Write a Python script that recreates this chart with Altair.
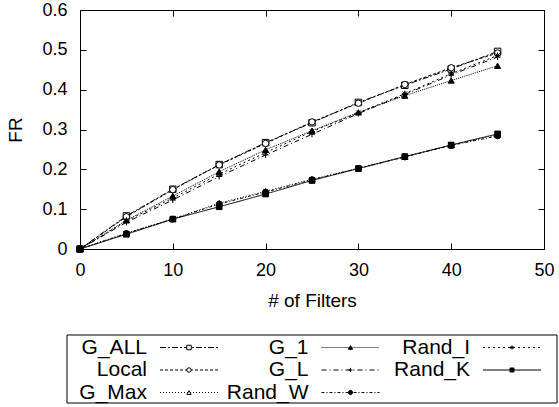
import altair as alt
import pandas as pd

# Number of filters on the x axis
filters = [0, 5, 10, 15, 20, 25, 30, 35, 40, 45]

series_names = ["G_ALL", "Local", "G_Max", "G_1", "G_L", "Rand_W", "Rand_I", "Rand_K"]

# FR per strategy
g_all = [0, 0.083, 0.150, 0.212, 0.267, 0.317, 0.368, 0.411, 0.452, 0.496]
local = [0, 0.081, 0.149, 0.211, 0.265, 0.319, 0.366, 0.413, 0.455, 0.492]
g_max = [0, 0.040, 0.076, 0.115, 0.145, 0.175, 0.203, 0.232, 0.261, 0.287]
g_1 = [0, 0.072, 0.133, 0.194, 0.249, 0.297, 0.343, 0.385, 0.423, 0.460]
g_l = [0, 0.067, 0.123, 0.182, 0.236, 0.288, 0.340, 0.388, 0.437, 0.482]
rand_w = [0, 0.039, 0.075, 0.113, 0.143, 0.174, 0.202, 0.231, 0.260, 0.284]
rand_i = [0, 0.070, 0.128, 0.188, 0.242, 0.295, 0.342, 0.390, 0.440, 0.486]
rand_k = [0, 0.037, 0.075, 0.106, 0.138, 0.172, 0.202, 0.232, 0.261, 0.289]

x_ticks = [0, 10, 20, 30, 40, 50]
y_ticks = [0, 0.1, 0.2, 0.3, 0.4, 0.5, 0.6]

values = {
    "G_ALL": g_all, "Local": local, "G_Max": g_max, "G_1": g_1,
    "G_L": g_l, "Rand_W": rand_w, "Rand_I": rand_i, "Rand_K": rand_k,
}
df = pd.DataFrame(
    [{"filters": f, "series": s, "fr": v}
     for s in series_names for f, v in zip(filters, values[s])]
)

# Line and marker styles per series
dashes = [[6, 2, 2, 2], [3, 2], [1, 2], [1, 1], [5, 3, 1, 3], [3, 2, 1, 2], [2, 3], [1, 0]]
plus = "M-1,0L1,0M0,-1L0,1"
star = "M-1,0L1,0M0,-1L0,1M-0.75,-0.75L0.75,0.75M-0.75,0.75L0.75,-0.75"
shapes = ["square", "circle", "triangle-up", "triangle-up", plus, "circle", star, "square"]
fills = ["white", "white", "white", "black", "black", "black", "black", "black"]
sizes = [42, 32, 32, 28, 50, 30, 50, 70]
legend_sizes = [20, 16, 16, 14, 30, 16, 30, 55]

FONT = "Liberation Sans"

dash_enc = alt.StrokeDash("series:N", scale=alt.Scale(domain=series_names, range=dashes), legend=None)
shape_enc = alt.Shape("series:N", scale=alt.Scale(domain=series_names, range=shapes), legend=None)
fill_enc = alt.Fill("series:N", scale=alt.Scale(domain=series_names, range=fills), legend=None)

x_dom = alt.Scale(domain=[0, 50], nice=False, zero=False)
y_dom = alt.Scale(domain=[0, 0.6], nice=False, zero=False)

# Inward ticks: the axis line sits 6px inside the frame and ticks reach out to it
common_axis = dict(offset=-6, tickSize=6, domain=False, grid=False, tickColor="black",
                   labelColor="black", titleColor="black", labelFont=FONT, titleFont=FONT,
                   labelFontSize=18, titleFontSize=19, titleFontWeight="normal",
                   labelFlush=False, labelOverlap=False)

lines = alt.Chart(df).mark_line(color="black", strokeWidth=1).encode(
    x=alt.X("filters:Q", scale=x_dom,
            axis=alt.Axis(orient="bottom", values=x_ticks, format="d", title="# of Filters",
                          labelPadding=12, titlePadding=12, **common_axis)),
    y=alt.Y("fr:Q", scale=y_dom,
            axis=alt.Axis(orient="left", values=y_ticks, format="~f", title="FR",
                          labelPadding=13, titlePadding=16, **common_axis)),
    strokeDash=dash_enc,
    detail="series:N",
)

points = alt.Chart(df).mark_point(filled=True, stroke="black", strokeWidth=1, opacity=1).encode(
    x=alt.X("filters:Q", scale=x_dom,
            axis=alt.Axis(orient="top", values=x_ticks, labels=False, title=None, **common_axis)),
    y=alt.Y("fr:Q", scale=y_dom,
            axis=alt.Axis(orient="right", values=y_ticks, labels=False, title=None, **common_axis)),
    shape=shape_enc,
    fill=fill_enc,
    size=alt.Size("series:N", scale=alt.Scale(domain=series_names, range=sizes), legend=None),
)

# Legend: three columns, filled column by column
BOX_W, BOX_H = 490, 68
COL_STEP, ROW_STEP = 161.5, 22.5
leg = pd.DataFrame(
    [{"series": s,
      "label_x": 80 + (i // 3) * COL_STEP,
      "x1": 93 + (i // 3) * COL_STEP,
      "x2": 151 + (i // 3) * COL_STEP,
      "mx": 122 + (i // 3) * COL_STEP,
      "y": 12.5 + (i % 3) * ROW_STEP}
     for i, s in enumerate(series_names)]
)
box = pd.DataFrame([{"x1": 0, "x2": BOX_W, "y1": 0, "y2": BOX_H}])

lx = alt.Scale(domain=[0, BOX_W], range=[-13, 477], nice=False, zero=False)
ly = alt.Scale(domain=[0, BOX_H], range=[325, 393], nice=False, zero=False)

legend_box = alt.Chart(box).mark_rect(fill="white", stroke="black", strokeWidth=1).encode(
    x=alt.X("x1:Q", scale=lx, axis=None), x2="x2:Q",
    y=alt.Y("y1:Q", scale=ly, axis=None), y2="y2:Q",
)
legend_lines = alt.Chart(leg).mark_rule(color="black", strokeWidth=1).encode(
    x=alt.X("x1:Q", scale=lx, axis=None), x2="x2:Q",
    y=alt.Y("y:Q", scale=ly, axis=None),
    strokeDash=dash_enc,
)
legend_points = alt.Chart(leg).mark_point(filled=True, stroke="black", strokeWidth=1, opacity=1).encode(
    x=alt.X("mx:Q", scale=lx, axis=None),
    y=alt.Y("y:Q", scale=ly, axis=None),
    shape=shape_enc,
    fill=fill_enc,
    size=alt.Size("series:N", scale=alt.Scale(domain=series_names, range=legend_sizes), legend=None),
)
legend_text = alt.Chart(leg).mark_text(align="right", baseline="middle", font=FONT,
                                       fontSize=21, color="black").encode(
    x=alt.X("label_x:Q", scale=lx, axis=None),
    y=alt.Y("y:Q", scale=ly, axis=None),
    text="series:N",
)

chart = alt.layer(
    lines, points, legend_box, legend_lines, legend_points, legend_text
).resolve_scale(
    x="independent", y="independent", size="independent"
).resolve_axis(
    x="independent", y="independent"
).properties(
    width=464, height=239,
    autosize=alt.AutoSizeParams(type="none"),
    padding={"left": 80, "top": 10, "right": 15, "bottom": 158},
    background="white",
).configure_view(stroke="black", strokeWidth=1)

chart.save("out.html", embed_options={"renderer": "svg", "actions": False})
